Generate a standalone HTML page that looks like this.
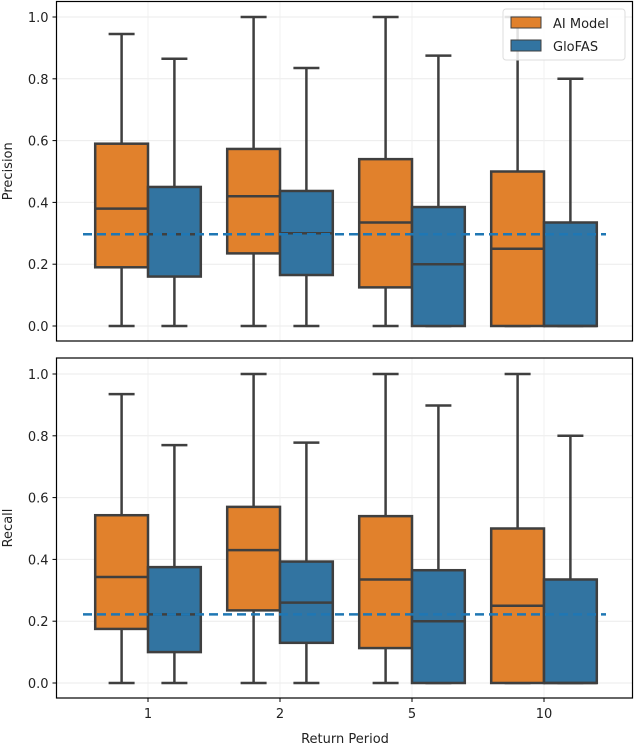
<!DOCTYPE html>
<html><head><meta charset="utf-8"><style>
body{margin:0;background:#fff;}
svg{display:block;font-family:"DejaVu Sans","Liberation Sans",sans-serif;}
</style></head><body>
<svg id="c" width="636" height="744" xmlns="http://www.w3.org/2000/svg"></svg>
<script>
const categories=["1","2","5","10"];
const seriesNames=["AI Model","GloFAS"];
const colors=["#e1812c","#3274a1"];
const yTicks=[0,0.2,0.4,0.6,0.8,1.0];
const yTickLabels=["0.0","0.2","0.4","0.6","0.8","1.0"];
// [whiskerLow, q1, median, q3, whiskerHigh]
const precisionAI=[[0,0.19,0.38,0.59,0.945],[0,0.235,0.42,0.573,1.0],[0,0.125,0.335,0.54,1.0],[0,0,0.25,0.5,1.0]];
const precisionGloFAS=[[0,0.16,0.297,0.45,0.865],[0,0.165,0.30,0.437,0.835],[0,0,0.2,0.385,0.875],[0,0,0,0.335,0.8]];
const recallAI=[[0,0.175,0.343,0.543,0.935],[0,0.235,0.43,0.57,1.0],[0,0.113,0.335,0.54,1.0],[0,0,0.25,0.5,1.0]];
const recallGloFAS=[[0,0.1,0.222,0.375,0.77],[0,0.13,0.26,0.393,0.778],[0,0,0.2,0.365,0.898],[0,0,0,0.335,0.8]];
const precisionRef=0.297;
const recallRef=0.222;

const svg=document.getElementById('c');
const NS="http://www.w3.org/2000/svg";
function mk(tag,attrs,parent){const e=document.createElementNS(NS,tag);for(const k in attrs)e.setAttribute(k,attrs[k]);(parent||svg).appendChild(e);return e;}
const X0=56.5,X1=632.5,step=132,firstX=148;
function xScale(i){return firstX+i*step;}

function panel(name,top,bottom,y0px,ai,glo,ref,label,showXTicks,legend){
  const g=mk('g',{});
  
  
  const yS=v=>y0px-v*309;
  yTicks.forEach((t,i)=>{
    const y=yS(t);
    const gl=mk('line',{x1:X0,x2:X1,y1:y,y2:y,stroke:'#ebebeb','stroke-width':1},g);
    
    
    mk('line',{x1:X0-4,x2:X0,y1:y,y2:y,stroke:'#000','stroke-width':1},g);
    const tx=mk('text',{x:X0-8,y:y+5,'text-anchor':'end','font-size':13,fill:'#222'},g);
    tx.textContent=yTickLabels[i];
    
    
  });
  categories.forEach((c,i)=>{
    const gl=mk('line',{x1:xScale(i),x2:xScale(i),y1:top,y2:bottom,stroke:'#f0f0f0','stroke-width':1},g);
    
    
  });
  const bw=52.8;
  [ai,glo].forEach((ser,s)=>{
    ser.forEach((d,i)=>{
      const cx=xScale(i)+(s===0?-bw/2:bw/2);
      const bg=mk('g',{},g);
      
      
      const st={stroke:'#3f3f3f','stroke-width':2.5};
      mk('line',Object.assign({x1:cx,x2:cx,y1:yS(d[0]),y2:yS(d[1])},st),bg);
      mk('line',Object.assign({x1:cx,x2:cx,y1:yS(d[3]),y2:yS(d[4])},st),bg);
      mk('line',Object.assign({x1:cx-13,x2:cx+13,y1:yS(d[0]),y2:yS(d[0])},st),bg);
      mk('line',Object.assign({x1:cx-13,x2:cx+13,y1:yS(d[4]),y2:yS(d[4])},st),bg);
      mk('rect',Object.assign({x:cx-bw/2,y:yS(d[3]),width:bw,height:yS(d[1])-yS(d[3]),fill:colors[s]},st),bg);
      mk('line',Object.assign({x1:cx-bw/2,x2:cx+bw/2,y1:yS(d[2]),y2:yS(d[2])},st),bg);
    });
  });
  const rl=mk('line',{x1:83,x2:606,y1:yS(ref),y2:yS(ref),stroke:'#1f77b4','stroke-width':2.5,'stroke-dasharray':'9,5'},g);
  
  
  const fr=mk('rect',{x:X0,y:top,width:X1-X0,height:bottom-top,fill:'none',stroke:'#000','stroke-width':1.2},g);
  
  
  const yl=mk('text',{x:0,y:0,'text-anchor':'middle','font-size':13,fill:'#222',transform:`translate(12,${(top+bottom)/2}) rotate(-90)`},g);
  yl.textContent=label;
  
  
  if(showXTicks){
    categories.forEach((c,i)=>{
      mk('line',{x1:xScale(i),x2:xScale(i),y1:bottom,y2:bottom+4,stroke:'#000'},g);
      const t=mk('text',{x:xScale(i),y:bottom+20,'text-anchor':'middle','font-size':13,fill:'#222'},g);
      t.textContent=c;
      
      
    });
    const xt=mk('text',{x:345,y:743,'text-anchor':'middle','font-size':13,fill:'#222'},g);
    xt.textContent='Return Period';
    
    
  }
  if(legend){
    const lg=mk('g',{},g);
    
    
    mk('rect',{x:503,y:9,width:122,height:51,rx:3,fill:'#fff','fill-opacity':0.85,stroke:'#ddd'},lg);
    seriesNames.forEach((n,s)=>{
      const e=mk('g',{},lg);
      
      
      mk('rect',{x:511,y:17+s*23,width:30,height:11,fill:colors[s],stroke:'#3f3f3f','stroke-width':1},e);
      const t=mk('text',{x:553,y:28+s*23,'font-size':13,fill:'#222'},e);
      t.textContent=n;
    });
  }
}
panel('precision',1.5,341,326,precisionAI,precisionGloFAS,precisionRef,'Precision',false,true);
panel('recall',358,698,683,recallAI,recallGloFAS,recallRef,'Recall',true,false);
</script>
</body></html>
